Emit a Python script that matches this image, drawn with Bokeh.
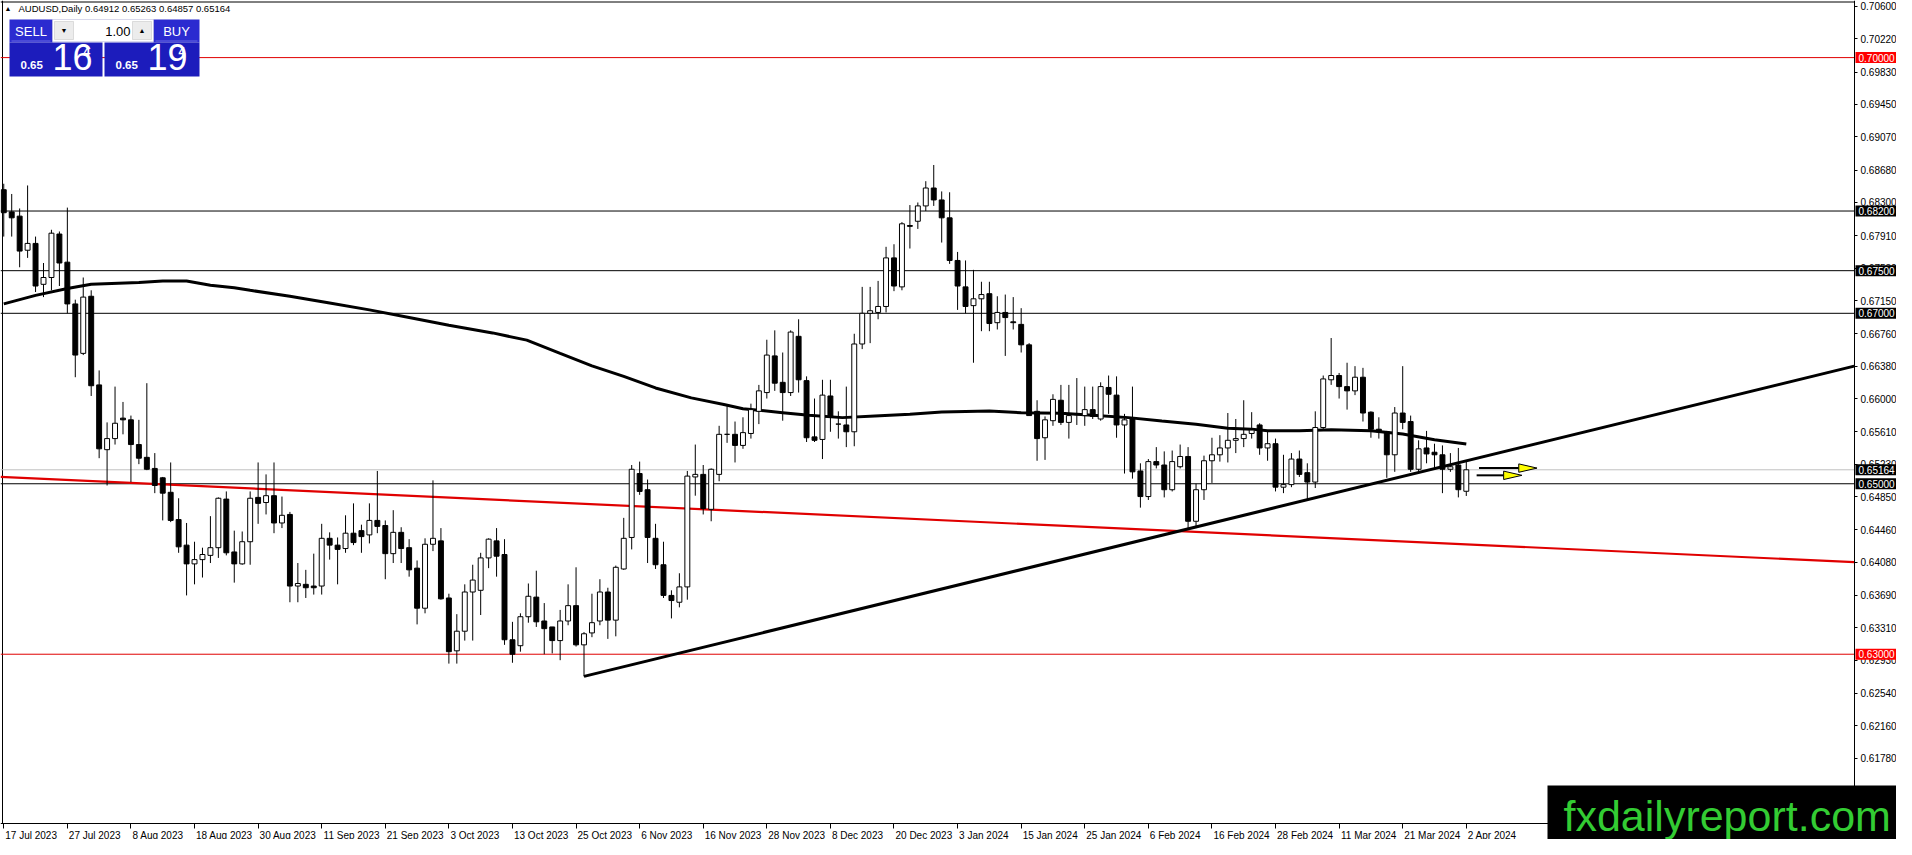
from bokeh.plotting import figure
from bokeh.models import Range1d, FixedTicker, PrintfTickFormatter, Label, BoxAnnotation, LinearAxis
from bokeh.embed import file_html
from bokeh.resources import INLINE

# ---------------- data ----------------
symbol = "AUDUSD"
timeframe = "Daily"

opens = [
    0.6845, 0.6819, 0.6814, 0.6774, 0.6782, 0.6734, 0.6742, 0.6793, 0.6760, 0.6711,
    0.6653, 0.6720, 0.6616, 0.6540, 0.6553, 0.6577, 0.6575, 0.6546, 0.6531, 0.6518,
    0.6507, 0.6490, 0.6458, 0.6428, 0.6406, 0.6411, 0.6416, 0.6425, 0.6482, 0.6420,
    0.6406, 0.6432, 0.6484, 0.6478, 0.6486, 0.6454, 0.6464, 0.6380, 0.6382, 0.6380,
    0.6380, 0.6436, 0.6428, 0.6424, 0.6442, 0.6445, 0.6440, 0.6457, 0.6451, 0.6418,
    0.6443, 0.6425, 0.6401, 0.6354, 0.6429, 0.6433, 0.6366, 0.6304, 0.6327, 0.6373,
    0.6375, 0.6413, 0.6433, 0.6417, 0.6317, 0.6310, 0.6344, 0.6367, 0.6339, 0.6332,
    0.6316, 0.6339, 0.6357, 0.6311, 0.6325, 0.6339, 0.6373, 0.6340, 0.6400, 0.6437,
    0.6512, 0.6493, 0.6436, 0.6405, 0.6369, 0.6361, 0.6379, 0.6508, 0.6511, 0.6470,
    0.6511, 0.6558, 0.6558, 0.6545, 0.6559, 0.6585, 0.6607, 0.6650, 0.6619, 0.6607,
    0.6673, 0.6621, 0.6555, 0.6552, 0.6603, 0.6570, 0.6569, 0.6561, 0.6664, 0.6700,
    0.6701, 0.6708, 0.6765, 0.6731, 0.6803, 0.6808, 0.6826, 0.6847, 0.6833, 0.6812,
    0.6762, 0.6731, 0.6709, 0.6717, 0.6723, 0.6689, 0.6701, 0.6690, 0.6687, 0.6663,
    0.6585, 0.6554, 0.6574, 0.6598, 0.6572, 0.6582, 0.6580, 0.6587, 0.6576, 0.6613,
    0.6604, 0.6569, 0.6576, 0.6515, 0.6485, 0.6526, 0.6522, 0.6493, 0.6520, 0.6532,
    0.6456, 0.6493, 0.6527, 0.6534, 0.6542, 0.6551, 0.6553, 0.6559, 0.6569, 0.6542,
    0.6547, 0.6496, 0.6499, 0.6529, 0.6513, 0.6502, 0.6566, 0.6622, 0.6627, 0.6614,
    0.6609, 0.6625, 0.6584, 0.6564, 0.6561, 0.6534, 0.6583, 0.6573, 0.6517, 0.6542,
    0.6537, 0.6534, 0.6517, 0.6522, 0.64912,
]

highs = [
    0.6852, 0.6840, 0.6823, 0.6850, 0.6790, 0.6759, 0.6798, 0.6796, 0.6824, 0.6716,
    0.6742, 0.6727, 0.6633, 0.6572, 0.6614, 0.6596, 0.6580, 0.6575, 0.6618, 0.6536,
    0.6508, 0.6525, 0.6483, 0.6454, 0.6432, 0.6425, 0.6462, 0.6484, 0.6491, 0.6445,
    0.6444, 0.6491, 0.6525, 0.6511, 0.6525, 0.6485, 0.6467, 0.6407, 0.6399, 0.6418,
    0.6453, 0.6443, 0.6437, 0.6463, 0.6477, 0.6452, 0.6477, 0.6515, 0.6457, 0.6469,
    0.6449, 0.6435, 0.6410, 0.6436, 0.6504, 0.6448, 0.6371, 0.6347, 0.6382, 0.6405,
    0.6419, 0.6436, 0.6448, 0.6435, 0.6338, 0.6348, 0.6383, 0.6398, 0.6360, 0.6332,
    0.6352, 0.6382, 0.6402, 0.6326, 0.6371, 0.6388, 0.6378, 0.6404, 0.6460, 0.6522,
    0.6526, 0.6505, 0.6453, 0.6432, 0.6375, 0.6395, 0.6515, 0.6546, 0.6522, 0.6518,
    0.6568, 0.6591, 0.6573, 0.6578, 0.6594, 0.6616, 0.6669, 0.6680, 0.6654, 0.6680,
    0.6693, 0.6626, 0.6600, 0.6622, 0.6622, 0.6585, 0.6614, 0.6676, 0.6731, 0.6731,
    0.6738, 0.6778, 0.6781, 0.6807, 0.6827, 0.6830, 0.6855, 0.6874, 0.6843, 0.6842,
    0.6772, 0.6762, 0.6751, 0.6737, 0.6737, 0.6720, 0.6722, 0.6719, 0.6706, 0.6665,
    0.6598, 0.6579, 0.6605, 0.6616, 0.6616, 0.6624, 0.6614, 0.6614, 0.6619, 0.6627,
    0.6626, 0.6582, 0.6614, 0.6524, 0.6529, 0.6543, 0.6538, 0.6539, 0.6546, 0.6543,
    0.6500, 0.6533, 0.6554, 0.6557, 0.6583, 0.6576, 0.6598, 0.6584, 0.6571, 0.6562,
    0.6553, 0.6534, 0.6536, 0.6539, 0.6524, 0.6585, 0.6627, 0.6671, 0.6630, 0.6642,
    0.6638, 0.6636, 0.6585, 0.6578, 0.6562, 0.6590, 0.6638, 0.6580, 0.6551, 0.6562,
    0.6547, 0.6545, 0.6536, 0.6542, 0.65263,
]

lows = [
    0.6790, 0.6790, 0.6754, 0.6765, 0.6725, 0.6719, 0.6727, 0.6732, 0.6700, 0.6625,
    0.6651, 0.6603, 0.6530, 0.6498, 0.6546, 0.6558, 0.6502, 0.6523, 0.6516, 0.6489,
    0.6457, 0.6455, 0.6419, 0.6369, 0.6382, 0.6390, 0.6407, 0.6413, 0.6416, 0.6384,
    0.6405, 0.6405, 0.6453, 0.6464, 0.6442, 0.6448, 0.6361, 0.6361, 0.6366, 0.6370,
    0.6370, 0.6411, 0.6382, 0.6419, 0.6428, 0.6419, 0.6430, 0.6442, 0.6388, 0.6407,
    0.6407, 0.6391, 0.6335, 0.6348, 0.6421, 0.6364, 0.6289, 0.6289, 0.6316, 0.6316,
    0.6346, 0.6401, 0.6391, 0.6311, 0.6290, 0.6303, 0.6337, 0.6332, 0.6300, 0.6301,
    0.6293, 0.6334, 0.6309, 0.6274, 0.6320, 0.6334, 0.6318, 0.6321, 0.6399, 0.6423,
    0.6487, 0.6407, 0.6400, 0.6366, 0.6342, 0.6355, 0.6364, 0.6486, 0.6464, 0.6456,
    0.6503, 0.6548, 0.6525, 0.6541, 0.6553, 0.6570, 0.6600, 0.6609, 0.6574, 0.6603,
    0.6607, 0.6549, 0.6549, 0.6529, 0.6561, 0.6553, 0.6543, 0.6544, 0.6658, 0.6665,
    0.6693, 0.6701, 0.6726, 0.6727, 0.6776, 0.6799, 0.6820, 0.6826, 0.6783, 0.6758,
    0.6704, 0.6700, 0.6642, 0.6679, 0.6679, 0.6681, 0.6650, 0.6681, 0.6654, 0.6580,
    0.6527, 0.6528, 0.6568, 0.6569, 0.6553, 0.6569, 0.6568, 0.6576, 0.6574, 0.6582,
    0.6554, 0.6512, 0.6506, 0.6472, 0.6481, 0.6518, 0.6484, 0.6491, 0.6518, 0.6446,
    0.6448, 0.6481, 0.6501, 0.6526, 0.6525, 0.6536, 0.6543, 0.6553, 0.6534, 0.6527,
    0.6491, 0.6489, 0.6496, 0.6508, 0.6481, 0.6495, 0.6562, 0.6616, 0.6600, 0.6587,
    0.6604, 0.6573, 0.6554, 0.6553, 0.6507, 0.6514, 0.6564, 0.6514, 0.6513, 0.6524,
    0.6517, 0.6489, 0.6514, 0.6484, 0.64857,
]

closes = [
    0.6818, 0.6812, 0.6773, 0.6782, 0.6732, 0.6742, 0.6794, 0.6759, 0.6711, 0.6651,
    0.6719, 0.6615, 0.6541, 0.6553, 0.6571, 0.6575, 0.6546, 0.6530, 0.6517, 0.6498,
    0.6489, 0.6457, 0.6426, 0.6406, 0.6411, 0.6417, 0.6425, 0.6483, 0.6419, 0.6406,
    0.6432, 0.6483, 0.6477, 0.6486, 0.6454, 0.6463, 0.6380, 0.6383, 0.6378, 0.6378,
    0.6436, 0.6428, 0.6423, 0.6442, 0.6431, 0.6438, 0.6457, 0.6450, 0.6418, 0.6443,
    0.6424, 0.6399, 0.6354, 0.6429, 0.6436, 0.6365, 0.6303, 0.6327, 0.6373, 0.6387,
    0.6413, 0.6435, 0.6415, 0.6317, 0.6300, 0.6344, 0.6368, 0.6338, 0.6330, 0.6316,
    0.6339, 0.6357, 0.6311, 0.6324, 0.6337, 0.6373, 0.6340, 0.6402, 0.6436, 0.6517,
    0.6491, 0.6437, 0.6405, 0.6369, 0.6363, 0.6379, 0.6509, 0.6511, 0.6471, 0.6517,
    0.6558, 0.6558, 0.6545, 0.6560, 0.6587, 0.6609, 0.6651, 0.6618, 0.6607, 0.6678,
    0.6622, 0.6554, 0.6551, 0.6604, 0.6579, 0.6570, 0.6561, 0.6664, 0.6700, 0.6703,
    0.6708, 0.6765, 0.6732, 0.6805, 0.6802, 0.6826, 0.6847, 0.6833, 0.6812, 0.6762,
    0.6732, 0.6708, 0.6717, 0.6722, 0.6688, 0.6701, 0.6695, 0.6689, 0.6663, 0.6580,
    0.6553, 0.6575, 0.6599, 0.6572, 0.6580, 0.6581, 0.6587, 0.6579, 0.6614, 0.6605,
    0.6569, 0.6575, 0.6514, 0.6485, 0.6526, 0.6522, 0.6493, 0.6526, 0.6532, 0.6456,
    0.6493, 0.6527, 0.6534, 0.6542, 0.6551, 0.6553, 0.6558, 0.6563, 0.6542, 0.6547,
    0.6496, 0.6499, 0.6529, 0.6511, 0.6502, 0.6566, 0.6623, 0.6627, 0.6614, 0.6609,
    0.6625, 0.6583, 0.6564, 0.6561, 0.6534, 0.6583, 0.6572, 0.6517, 0.6541, 0.6535,
    0.6534, 0.6517, 0.6520, 0.6493, 0.65164,
]

date_labels = [
    "17 Jul 2023", "27 Jul 2023", "8 Aug 2023", "18 Aug 2023", "30 Aug 2023",
    "11 Sep 2023", "21 Sep 2023", "3 Oct 2023", "13 Oct 2023", "25 Oct 2023",
    "6 Nov 2023", "16 Nov 2023", "28 Nov 2023", "8 Dec 2023", "20 Dec 2023",
    "3 Jan 2024", "15 Jan 2024", "25 Jan 2024", "6 Feb 2024", "16 Feb 2024",
    "28 Feb 2024", "11 Mar 2024", "21 Mar 2024", "2 Apr 2024",
]
date_step = 8  # bars between date labels

price_ticks = [
    0.70600, 0.70220, 0.69830, 0.69450, 0.69070, 0.68680, 0.68300, 0.67910,
    0.67530, 0.67150, 0.66760, 0.66380, 0.66000, 0.65610, 0.65230, 0.64850,
    0.64460, 0.64080, 0.63690, 0.63310, 0.62930, 0.62540, 0.62160, 0.61780,
]

# moving average
ma_bars = [0, 4, 8, 11, 17, 20, 23, 26, 29, 31, 36, 41, 46, 51, 56, 61.5, 65.8, 70,
           74, 78, 82, 86.5, 90.6, 93, 98, 101.3, 105.5, 109.6, 114, 118, 124, 128,
           133, 137, 141.5, 145.7, 150, 154, 157, 159, 163, 167, 172, 176, 180, 184]
ma_vals = [0.6711, 0.6721, 0.6729, 0.6734, 0.6736, 0.6738, 0.6738, 0.6733, 0.6730,
           0.6727, 0.6720, 0.6712, 0.6704, 0.6695, 0.6686, 0.6677, 0.66685, 0.6653,
           0.66384, 0.6626, 0.66124, 0.66008, 0.65931, 0.65881, 0.65834, 0.65803,
           0.65776, 0.65796, 0.65815, 0.65842, 0.65854, 0.65834, 0.65827, 0.65803,
           0.65776, 0.65737, 0.65699, 0.65652, 0.65641, 0.65622, 0.65622, 0.65633,
           0.65622, 0.65583, 0.65517, 0.65467]

# drawn objects
black_levels = [0.68200, 0.67500, 0.67000, 0.65000]
red_levels = [0.70000, 0.63000]
trend_bars = [73, 232.8]
trend_prices = [0.6274, 0.6638]
red_trend_bars = [-0.41, 232.8]
red_trend_prices = [0.6508, 0.6408]
arrow_start_bars = [185.6, 185.3]
arrow_tip_bars = [192.9, 191.0]
arrow_prices = [0.65184, 0.65099]
spread = 0.00030
lot_size = "1.00"

# ---------------- layout parameters ----------------
W, H = 1896, 839          # whole canvas
CW, CH = 1854, 823        # chart area (right / bottom axis drawn at these)
bar_px = 8 * CW / 1866
x0 = -0.41
x1 = x0 + W / bar_px
right_bar = x0 + CW / bar_px
y_top = 0.70670
y_chart_bottom = 0.61014
ppx = (y_top - y_chart_bottom) / CH
y_bottom = y_top - H * ppx

p = figure(frame_width=W, frame_height=H,
           x_range=Range1d(x0, x1), y_range=Range1d(y_bottom, y_top),
           output_backend="svg", toolbar_location=None,
           x_axis_location="below", y_axis_location="right",
           min_border=0, outline_line_color=None,
           background_fill_color="white", border_fill_color="white")
p.xgrid.visible = False
p.ygrid.visible = False

FONT = "Liberation Sans"

ya = p.yaxis[0]
ya.fixed_location = right_bar
ya.ticker = FixedTicker(ticks=price_ticks, minor_ticks=[])
ya.formatter = PrintfTickFormatter(format="%.5f")
ya.major_tick_out = 3
ya.major_tick_in = 0
ya.minor_tick_out = 0
ya.minor_tick_in = 0
ya.major_label_standoff = 3
ya.major_label_text_font = FONT
ya.major_label_text_font_size = "10px"
ya.major_label_text_color = "black"
ya.axis_line_color = "black"
ya.major_tick_line_color = "black"

# time axis: tick marks at the bars, labels left-aligned after each tick
tick_bars = [i * date_step for i in range(len(date_labels))]
xa = p.xaxis[0]
xa.fixed_location = y_chart_bottom
xa.ticker = FixedTicker(ticks=tick_bars, minor_ticks=[])
xa.major_label_overrides = {b: "" for b in tick_bars}
xa.major_tick_out = 5
xa.major_tick_in = 0
xa.minor_tick_out = 0
xa.minor_tick_in = 0
xa.axis_line_color = "black"

CHAR_W = {" ": 0.278, "J": 0.5, "u": 0.556, "l": 0.222, "A": 0.667, "g": 0.556,
          "S": 0.667, "e": 0.556, "p": 0.556, "O": 0.778, "c": 0.5, "t": 0.278,
          "N": 0.722, "o": 0.556, "v": 0.5, "D": 0.722, "F": 0.611, "b": 0.556,
          "M": 0.833, "a": 0.556, "r": 0.333, "n": 0.556}
def text_w(s, size=10.0):
    return sum(CHAR_W.get(ch, 0.556) for ch in s) * size

label_pos = [b + (1.5 + text_w(s) / 2) / bar_px for b, s in zip(tick_bars, date_labels)]
xa2 = LinearAxis(fixed_location=y_chart_bottom,
                 ticker=FixedTicker(ticks=label_pos, minor_ticks=[]),
                 major_label_overrides={lp: s for lp, s in zip(label_pos, date_labels)},
                 axis_line_color=None, major_tick_line_color=None,
                 major_tick_out=5, major_tick_in=0, minor_tick_out=0, minor_tick_in=0,
                 major_label_standoff=1, major_label_text_font=FONT,
                 major_label_text_font_size="10px", major_label_text_color="black")
p.add_layout(xa2, "below")

# chart border (left + top)
p.segment(x0=[x0 + 2 / bar_px], y0=[y_chart_bottom], x1=[x0 + 2 / bar_px], y1=[y_top],
          line_color="black", line_width=1)
p.segment(x0=[x0], y0=[y_top - 1.5 * ppx], x1=[right_bar], y1=[y_top - 1.5 * ppx],
          line_color="black", line_width=1)

# horizontal levels
bid = closes[-1]
p.segment(x0=[x0] * len(black_levels), y0=black_levels,
          x1=[right_bar] * len(black_levels), y1=black_levels,
          line_color="black", line_width=1)
p.segment(x0=[x0] * len(red_levels), y0=red_levels,
          x1=[right_bar] * len(red_levels), y1=red_levels,
          line_color="#e00000", line_width=1)
p.segment(x0=[x0], y0=[bid], x1=[right_bar], y1=[bid], line_color="#c0c0c0", line_width=1)

# trend lines and MA
p.line(red_trend_bars, red_trend_prices, line_color="#e00000", line_width=2.2)
p.line(ma_bars, ma_vals, line_color="black", line_width=3)
p.line(trend_bars, trend_prices, line_color="black", line_width=3)

# candles
idx = list(range(len(opens)))
p.segment(x0=idx, y0=lows, x1=idx, y1=highs, line_color="black", line_width=1)
up = [i for i in idx if closes[i] >= opens[i]]
dn = [i for i in idx if closes[i] < opens[i]]
p.vbar(x=up, width=0.62, top=[closes[i] for i in up], bottom=[opens[i] for i in up],
       fill_color="white", line_color="black", line_width=1)
p.vbar(x=dn, width=0.62, top=[opens[i] for i in dn], bottom=[closes[i] for i in dn],
       fill_color="black", line_color="black", line_width=1)

# arrows
head_len = 2.3
head_half = 4.2 * ppx
p.segment(x0=arrow_start_bars, y0=arrow_prices,
          x1=[t - head_len for t in arrow_tip_bars], y1=arrow_prices,
          line_color="black", line_width=2)
p.patches(xs=[[t - head_len, t - head_len, t] for t in arrow_tip_bars],
          ys=[[pr + head_half, pr - head_half, pr] for pr in arrow_prices],
          fill_color="#ffff00", line_color="black", line_width=1)

# price tags on the axis
def tag(price, bg):
    p.add_layout(BoxAnnotation(left=CW + 1, right=W, left_units="canvas", right_units="canvas",
                               top=price + 5.5 * ppx, bottom=price - 5.5 * ppx,
                               fill_color=bg, fill_alpha=1, line_color=None, level="overlay"))
    p.add_layout(Label(x=CW + 4, y=price, x_units="canvas", y_units="data", text=f"{price:.5f}",
                       text_color="white", text_font=FONT, text_font_size="10px",
                       text_baseline="middle", text_align="left", level="overlay"))

for lv in red_levels:
    tag(lv, "#ff0000")
for lv in black_levels + [bid]:
    tag(lv, "black")

# header
def txt(x, y, s, size, color="white", align="left", baseline="middle", style="normal"):
    p.add_layout(Label(x=x, y=y, x_units="canvas", y_units="canvas", text=s,
                       text_font=FONT, text_font_size=size, text_color=color,
                       text_align=align, text_baseline=baseline, text_font_style=style,
                       level="overlay"))

txt(4, 8, "\u25b2", "7px", color="black")
txt(18, 8, f"{symbol},{timeframe}  {opens[-1]:.5f} {highs[-1]:.5f} {lows[-1]:.5f} {closes[-1]:.5f}",
    "9.5px", color="black")

# one-click trading panel
def box(l, r, t, b, color, line=None):
    p.add_layout(BoxAnnotation(left=l, right=r, top=t, bottom=b,
                               left_units="canvas", right_units="canvas",
                               top_units="canvas", bottom_units="canvas",
                               fill_color=color, fill_alpha=1, line_color=line, line_width=1,
                               level="overlay"))

BTN = "#2b2bd0"
PRC = "#1c1cbc"
box(9, 52, 19, 42, BTN)
box(153, 199, 19, 42, BTN)
box(52, 153, 19, 41, "white", "#8080c0")
box(54, 73, 21, 39, "#ececec", "#a0a0a0")
box(132, 151, 21, 39, "#ececec", "#a0a0a0")
box(9, 102, 42, 76, PRC)
box(104, 199, 42, 76, PRC)
box(11, 50, 40, 41, "#6a6ae0")
box(155, 197, 40, 41, "#6a6ae0")
txt(30.5, 30.5, "SELL", "13px", align="center")
txt(176, 30.5, "BUY", "13px", align="center")
txt(130, 30.5, lot_size, "13px", color="black", align="right")
txt(63.5, 30, "\u25bc", "7px", color="black", align="center")
txt(141.5, 30, "\u25b2", "7px", color="black", align="center")

bid_s = f"{bid:.5f}"
ask_s = f"{bid + spread:.5f}"
for xs, s in ((20, bid_s), (115, ask_s)):
    txt(xs, 64.5, s[:4], "11.5px", style="bold")
    txt(xs + 32, 56, s[4:6], "36px")
    txt(xs + 63, 51, s[6], "12px", style="bold")

# watermark
box(1547, W, 785, H, "black")
txt(1563, 815, "fxdailyreport.com", "43px", color="#33cc33")

open("out.html", "w").write(file_html(p, INLINE))
